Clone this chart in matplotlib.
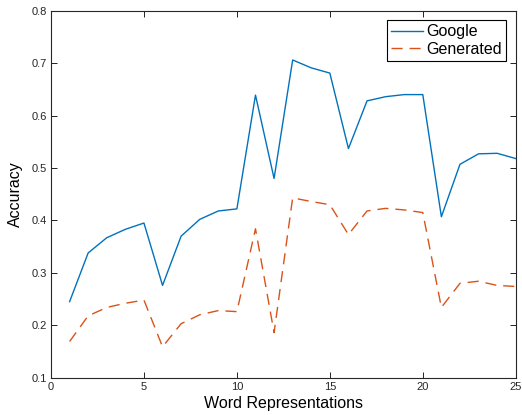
import matplotlib
matplotlib.use("Agg")
import matplotlib.pyplot as plt
import numpy as np

plt.rcParams['font.family'] = ['Liberation Sans', 'DejaVu Sans']

x = list(range(1, 26))
google = [0.245, 0.338, 0.367, 0.383, 0.395, 0.276, 0.370, 0.402, 0.418, 0.422,
          0.639, 0.480, 0.706, 0.691, 0.681, 0.537, 0.628, 0.636, 0.640, 0.640,
          0.407, 0.507, 0.527, 0.528, 0.518]
generated = [0.169, 0.218, 0.234, 0.242, 0.248, 0.159, 0.203, 0.220, 0.228, 0.226,
             0.384, 0.186, 0.443, 0.436, 0.430, 0.373, 0.418, 0.423, 0.420, 0.415,
             0.234, 0.280, 0.284, 0.276, 0.274]
xticks = [0, 5, 10, 15, 20, 25]
yticks = [0.1, 0.2, 0.3, 0.4, 0.5, 0.6, 0.7, 0.8]

fig = plt.figure(figsize=(5.22, 4.15), dpi=100)
ax = fig.add_axes([0.0977, 0.0899, 0.8903, 0.8843])
ax.plot(x, google, color='#0072BD', lw=1.0, label='Google')
ax.plot(x, generated, color='#D95319', lw=1.0, ls=(0, (8, 5)), label='Generated')
ax.set_xlim(0, 25)
ax.set_ylim(0.1, 0.8)
ax.set_xticks(xticks)
ax.set_yticks(yticks)
ax.set_yticklabels([f"{v:.1f}" for v in yticks])
ax.tick_params(direction='in', length=4, width=0.6, top=True, right=True,
               labelsize=8, labelcolor='#262626', pad=3)
for s in ax.spines.values():
    s.set_linewidth(0.8)
    s.set_color('#262626')
ax.set_xlabel('Word Representations', fontsize=11.5, labelpad=3)
ax.set_ylabel('Accuracy', fontsize=11.5, labelpad=6)
leg = ax.legend(loc='upper right', fontsize=11.5, frameon=True, fancybox=False,
                edgecolor='black', framealpha=1, handlelength=2.0, handletextpad=0.2,
                borderpad=0.25, labelspacing=0.15, borderaxespad=0.6)
leg.get_frame().set_linewidth(0.8)
fig.savefig('out.png', dpi=100)
